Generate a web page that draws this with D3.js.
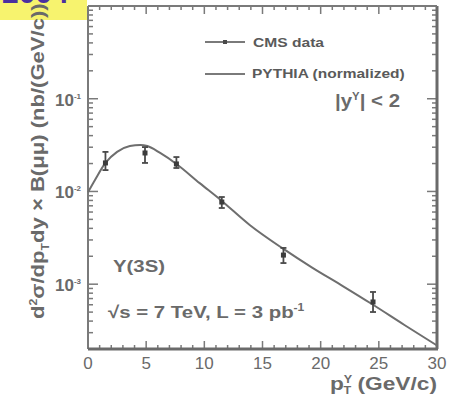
<!DOCTYPE html>
<html>
<head>
<meta charset="utf-8">
<script src="https://cdn.jsdelivr.net/npm/d3@7"></script>
<style>
  html, body { margin: 0; padding: 0; background: #fff; }
  svg { display: block; }
  text { font-family: "Liberation Sans", Arial, sans-serif; }
</style>
</head>
<body>
<svg id="chart" width="451" height="400"></svg>
<script>
// Upsilon(3S) differential cross section, |y| < 2, sqrt(s) = 7 TeV
const dataPt   = [1.5, 4.9, 7.6, 11.5, 16.8, 24.5];
const dataVal  = [0.0203, 0.0260, 0.0198, 0.00769, 0.00206, 0.000643];
const dataLow  = [0.0170, 0.0203, 0.0179, 0.00663, 0.00169, 0.000501];
const dataHigh = [0.0267, 0.0301, 0.0235, 0.00871, 0.00246, 0.000824];

// PYTHIA prediction (normalized)
const pythiaPt  = [0, 0.6, 1.5, 2.5, 3.6, 4.5, 5.1, 6.2, 7.6, 9.6, 11.4, 13.9, 16.8, 19.3, 21.9, 24.4, 27.2, 30];
const pythiaVal = [0.0098, 0.0133, 0.0203, 0.0267, 0.0309, 0.0317, 0.0309, 0.0260, 0.0198, 0.0123, 0.0081, 0.00435, 0.00240, 0.00150, 0.000955, 0.000611, 0.000363, 0.000218];

const xTickLabels = ["0", "5", "10", "15", "20", "25", "30"];
const yDecades = [1e-1, 1e-2, 1e-3];
const yDecadeExp = ["-1", "-2", "-3"];

const svg = d3.select("#chart");
const L = 88, R = 437, T = 6, B = 349;
const x = d3.scaleLinear().domain([0, 30]).range([L, R]);
const y = d3.scaleLog().domain([2e-4, 1]).range([B, T]);

const frameCol = "#7a7a7a";
const textCol = "#6a6a6a";

// stretch or squeeze a text horizontally (along its run) to a given width
function fitRun(sel, width, pre) {
  const w = sel.node().getBBox().width;
  const k = w > 0 ? width / w : 1;
  sel.attr("transform", `${pre} scale(${k},1)`);
}

// corner badge
svg.append("rect").attr("x", 0).attr("y", 0).attr("width", 87).attr("height", 20).attr("fill", "#f7f36e");
svg.append("text").attr("x", 2).attr("y", 3).attr("font-size", 30).attr("font-weight", "bold")
  .attr("fill", "#4a2fa0").text("2004");

// minor / major ticks
const g = svg.append("g");
const xMinor = d3.range(0, 31, 1);
g.selectAll(".xb").data(xMinor).join("line")
  .attr("x1", d => x(d)).attr("x2", d => x(d))
  .attr("y1", B).attr("y2", d => B - (d % 5 === 0 ? 8 : 4))
  .attr("stroke", frameCol).attr("stroke-width", 1.5);
g.selectAll(".xt").data(xMinor).join("line")
  .attr("x1", d => x(d)).attr("x2", d => x(d))
  .attr("y1", T).attr("y2", d => T + (d % 5 === 0 ? 8 : 4))
  .attr("stroke", frameCol).attr("stroke-width", 1.5);

const yMinor = [];
for (let e = -4; e <= -1; e++) {
  for (let m = 1; m <= 9; m++) {
    const v = m * Math.pow(10, e);
    if (v >= 2e-4 && v <= 1) yMinor.push({ v, major: m === 1 });
  }
}
g.selectAll(".yl").data(yMinor).join("line")
  .attr("x1", L).attr("x2", d => L + (d.major ? 10 : 5))
  .attr("y1", d => y(d.v)).attr("y2", d => y(d.v))
  .attr("stroke", frameCol).attr("stroke-width", 1.5);
g.selectAll(".yr").data(yMinor).join("line")
  .attr("x1", R).attr("x2", d => R - (d.major ? 10 : 5))
  .attr("y1", d => y(d.v)).attr("y2", d => y(d.v))
  .attr("stroke", frameCol).attr("stroke-width", 1.5);

// frame
svg.append("line").attr("x1", L).attr("x2", L).attr("y1", T).attr("y2", B).attr("stroke", frameCol).attr("stroke-width", 2);
svg.append("line").attr("x1", R).attr("x2", R).attr("y1", T).attr("y2", B).attr("stroke", "#6a6a6a").attr("stroke-width", 3);
svg.append("line").attr("x1", L).attr("x2", R).attr("y1", T).attr("y2", T).attr("stroke", frameCol).attr("stroke-width", 2);
svg.append("line").attr("x1", L).attr("x2", R + 1).attr("y1", B).attr("y2", B).attr("stroke", "#6a6a6a").attr("stroke-width", 3);

// x tick labels
svg.selectAll(".xl").data(xTickLabels).join("text")
  .attr("x", d => x(+d)).attr("y", 369)
  .attr("text-anchor", "middle").attr("font-size", 17).attr("fill", textCol)
  .text(d => d);

// y tick labels
yDecades.forEach((v, i) => {
  const t = svg.append("text").attr("x", 55).attr("y", y(v) + 7)
    .attr("font-size", 17).attr("fill", textCol).attr("font-weight", "bold");
  t.append("tspan").text("10");
  t.append("tspan").attr("dy", -7).attr("font-size", 8).text(yDecadeExp[i]);
});

// PYTHIA curve
const pyth = pythiaPt.map((p, i) => [p, pythiaVal[i]]);
svg.append("path").datum(pyth)
  .attr("fill", "none").attr("stroke", "#6e6e6e").attr("stroke-width", 2)
  .attr("d", d3.line().x(d => x(d[0])).y(d => y(d[1])).curve(d3.curveMonotoneX));

// CMS data points with error bars
const pts = dataPt.map((p, i) => ({ p, v: dataVal[i], lo: dataLow[i], hi: dataHigh[i] }));
const pg = svg.append("g").attr("stroke", "#4a4a4a").attr("stroke-width", 1.8);
pg.selectAll(".eb").data(pts).join("line")
  .attr("x1", d => x(d.p)).attr("x2", d => x(d.p))
  .attr("y1", d => y(d.lo)).attr("y2", d => y(d.hi));
pg.selectAll(".ct").data(pts).join("line")
  .attr("x1", d => x(d.p) - 3).attr("x2", d => x(d.p) + 3)
  .attr("y1", d => y(d.hi)).attr("y2", d => y(d.hi));
pg.selectAll(".cb").data(pts).join("line")
  .attr("x1", d => x(d.p) - 3).attr("x2", d => x(d.p) + 3)
  .attr("y1", d => y(d.lo)).attr("y2", d => y(d.lo));
svg.selectAll(".mk").data(pts).join("rect")
  .attr("x", d => x(d.p) - 2.5).attr("y", d => y(d.v) - 2.5)
  .attr("width", 5).attr("height", 5).attr("fill", "#3c3c3c");

// legend
svg.append("line").attr("x1", 205).attr("x2", 245).attr("y1", 42).attr("y2", 42).attr("stroke", "#7a7a7a").attr("stroke-width", 2);
svg.append("rect").attr("x", 223).attr("y", 40).attr("width", 4).attr("height", 4).attr("fill", "#4a4a4a");
const lg1 = svg.append("text").attr("font-size", 13).attr("font-weight", "bold").attr("fill", "#5a5a5a").text("CMS data");
fitRun(lg1, 72, "translate(253,47)");
svg.append("line").attr("x1", 205).attr("x2", 245).attr("y1", 74).attr("y2", 74).attr("stroke", "#7a7a7a").attr("stroke-width", 2);
const lg2 = svg.append("text").attr("font-size", 13).attr("font-weight", "bold").attr("fill", "#5a5a5a").text("PYTHIA (normalized)");
fitRun(lg2, 153, "translate(252,78)");

const rap = svg.append("text").attr("font-size", 18).attr("fill", textCol).attr("font-weight", "bold");
rap.append("tspan").text("|y");
rap.append("tspan").attr("dy", -7).attr("font-size", 10).text("Υ");
rap.append("tspan").attr("dy", 7).text("| < 2");
fitRun(rap, 65, "translate(335,107)");

const ups = svg.append("text").attr("font-size", 17).attr("font-weight", "bold").attr("fill", textCol).text("Υ(3S)");
fitRun(ups, 52, "translate(113,272)");

const en = svg.append("text").attr("font-size", 17).attr("font-weight", "bold").attr("fill", textCol);
en.append("tspan").text("√s = 7 TeV, L = 3 pb");
en.append("tspan").attr("dy", -7).attr("font-size", 10).text("-1");
fitRun(en, 197, "translate(108,318)");

// x axis title
const xt = svg.append("text").attr("font-size", 18).attr("fill", textCol).attr("font-weight", "bold");
xt.append("tspan").text("p");
xt.append("tspan").attr("dy", -7).attr("font-size", 10).text("Υ");
xt.append("tspan").attr("dx", -7).attr("dy", 11).attr("font-size", 10).text("T");
xt.append("tspan").attr("dy", -4).text(" (GeV/c)");
fitRun(xt, 107, "translate(330,390)");

// y axis title
const yt = svg.append("text").attr("font-size", 18).attr("font-weight", "bold").attr("fill", textCol);
yt.append("tspan").text("d");
yt.append("tspan").attr("dy", -7).attr("font-size", 10).text("2");
yt.append("tspan").attr("dy", 7).text("σ/dp");
yt.append("tspan").attr("dy", 5).attr("font-size", 10).text("T");
yt.append("tspan").attr("dy", -5).text("dy × B(μμ)  (nb/(GeV/c))");
fitRun(yt, 316, "translate(44,319) rotate(-90)");
</script>
</body>
</html>
